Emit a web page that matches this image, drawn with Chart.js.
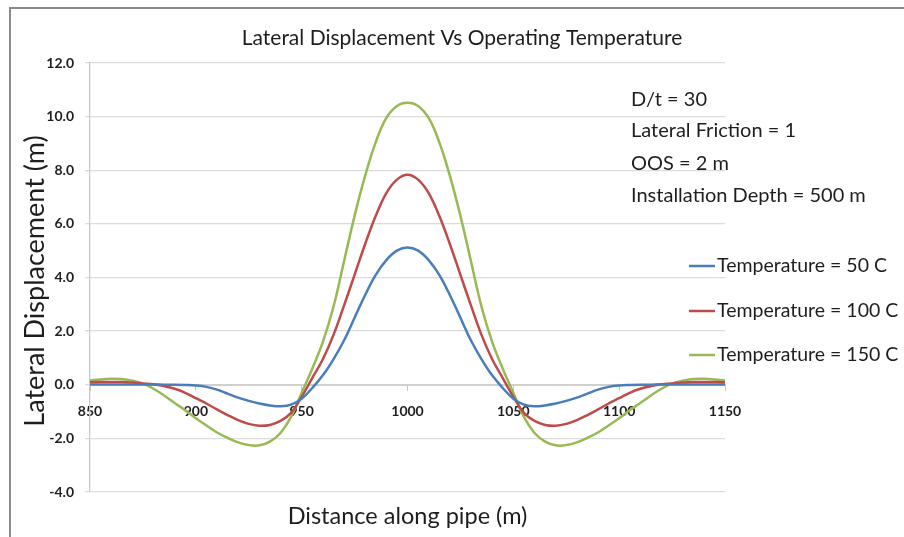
<!DOCTYPE html>
<html>
<head>
<meta charset="utf-8">
<script src="https://cdn.jsdelivr.net/npm/chart.js@4.4.1/dist/chart.umd.min.js"></script>
<style>
  body { margin: 0; background: #fff; }
  #wrap { width: 904px; height: 537px; position: relative; }
</style>
</head>
<body>
<div id="wrap"><canvas id="chart" width="904" height="537"></canvas></div>
<script>
// distance along the pipe, every 5 m
const distance = [
  850, 855, 860, 865, 870, 875, 880, 885, 890, 895,
  900, 905, 910, 915, 920, 925, 930, 935, 940, 945,
  950, 955, 960, 965, 970, 975, 980, 985, 990, 995,
  1000, 1005, 1010, 1015, 1020, 1025, 1030, 1035, 1040, 1045,
  1050, 1055, 1060, 1065, 1070, 1075, 1080, 1085, 1090, 1095,
  1100, 1105, 1110, 1115, 1120, 1125, 1130, 1135, 1140, 1145, 1150
];

// lateral displacement (m) for each operating temperature
const temp50 = [
  0.01, 0.01, 0.01, 0.01, 0.01, 0.01, 0.01, 0.00, 0.00, -0.01,
  -0.03, -0.08, -0.18, -0.33, -0.48, -0.60, -0.70, -0.77, -0.80, -0.74,
  -0.52, -0.12, 0.35, 0.95, 1.65, 2.50, 3.35, 4.10, 4.65, 5.00,
  5.12, 5.00, 4.65, 4.10, 3.35, 2.50, 1.65, 0.95, 0.35, -0.12,
  -0.52, -0.74, -0.80, -0.77, -0.70, -0.60, -0.48, -0.33, -0.18, -0.08,
  -0.03, -0.01, 0.00, 0.00, 0.01, 0.01, 0.01, 0.01, 0.01, 0.01, 0.01
];
const temp100 = [
  0.09, 0.10, 0.10, 0.10, 0.08, 0.05, 0.02, -0.05, -0.15, -0.30,
  -0.50, -0.70, -0.92, -1.13, -1.32, -1.46, -1.53, -1.50, -1.35, -1.05,
  -0.45, 0.25, 0.95, 1.85, 2.95, 4.10, 5.25, 6.30, 7.15, 7.65,
  7.83, 7.65, 7.15, 6.30, 5.25, 4.10, 2.95, 1.85, 0.95, 0.25,
  -0.45, -1.05, -1.35, -1.50, -1.53, -1.46, -1.32, -1.13, -0.92, -0.70,
  -0.50, -0.30, -0.15, -0.05, 0.02, 0.05, 0.08, 0.10, 0.10, 0.10, 0.09
];
const temp150 = [
  0.16, 0.20, 0.22, 0.21, 0.15, 0.04, -0.15, -0.40, -0.68, -0.95,
  -1.25, -1.52, -1.78, -1.98, -2.15, -2.25, -2.26, -2.12, -1.80, -1.20,
  -0.30, 0.60, 1.60, 2.90, 4.60, 6.30, 7.80, 9.05, 9.95, 10.40,
  10.52, 10.40, 9.95, 9.05, 7.80, 6.30, 4.60, 2.90, 1.60, 0.60,
  -0.30, -1.20, -1.80, -2.12, -2.26, -2.25, -2.15, -1.98, -1.78, -1.52,
  -1.25, -0.95, -0.68, -0.40, -0.15, 0.04, 0.15, 0.21, 0.22, 0.20, 0.16
];

const seriesNames = ['Temperature = 50 C', 'Temperature = 100 C', 'Temperature = 150 C'];
const seriesColors = ['#4a7ebb', '#be4b48', '#98b954'];

const xTicks = [850, 900, 950, 1000, 1050, 1100, 1150];
const yTicks = [-4, -2, 0, 2, 4, 6, 8, 10, 12];

const notes = ['D/t = 30', 'Lateral Friction = 1', 'OOS = 2 m', 'Installation Depth = 500 m'];

const FONT = 'Lato, "Open Sans", sans-serif';
const INK = '#1e1e1e';

function toPoints(ys) {
  return ys.map((y, i) => ({ x: distance[i], y: y }));
}

// frame, titles, notes and legend drawn straight onto the canvas
const decorations = {
  id: 'decorations',
  beforeDraw(chart) {
    const ctx = chart.ctx;
    ctx.save();
    ctx.fillStyle = '#fff';
    ctx.fillRect(0, 0, chart.width, chart.height);
    ctx.strokeStyle = '#8a8a8a';
    ctx.lineWidth = 2;
    ctx.beginPath();
    ctx.moveTo(10, chart.height);
    ctx.lineTo(10, 8);
    ctx.lineTo(chart.width, 8);
    ctx.stroke();
    ctx.restore();
  },
  afterDraw(chart) {
    const ctx = chart.ctx;
    const area = chart.chartArea;
    ctx.save();
    ctx.fillStyle = INK;
    ctx.textBaseline = 'middle';

    ctx.textAlign = 'center';
    ctx.font = '21px ' + FONT;
    ctx.fillText('Lateral Displacement Vs Operating Temperature', 462, 38);

    ctx.font = '23.5px ' + FONT;
    ctx.fillText('Distance along pipe (m)', (area.left + area.right) / 2, 516);

    ctx.save();
    ctx.translate(35, 281);
    ctx.rotate(-Math.PI / 2);
    ctx.font = '27px ' + FONT;
    ctx.fillText('Lateral Displacement (m)', 0, 0);
    ctx.restore();

    ctx.textAlign = 'left';
    ctx.font = '20px ' + FONT;
    const noteY = [100, 131, 164, 196];
    notes.forEach((t, i) => ctx.fillText(t, 631, noteY[i]));

    ctx.font = '19.5px ' + FONT;
    const legY = [266, 311, 355];
    seriesNames.forEach((name, i) => {
      ctx.strokeStyle = seriesColors[i];
      ctx.lineWidth = 2.5;
      ctx.beginPath();
      ctx.moveTo(689, legY[i]);
      ctx.lineTo(715, legY[i]);
      ctx.stroke();
      ctx.fillText(name, 717, legY[i]);
    });
    ctx.restore();
  }
};

const ctx = document.getElementById('chart').getContext('2d');
const chart = new Chart(ctx, {
  type: 'line',
  data: {
    datasets: [temp50, temp100, temp150].map((ys, i) => ({
      label: seriesNames[i],
      data: toPoints(ys),
      borderColor: seriesColors[i],
      borderWidth: 2.5,
      pointRadius: 0,
      tension: 0.4,
      fill: false
    }))
  },
  options: {
    responsive: false,
    animation: false,
    layout: { padding: { left: 10, top: 63, right: 179, bottom: 45 } },
    plugins: {
      legend: { display: false },
      title: { display: false },
      tooltip: { enabled: false }
    },
    scales: {
      x: {
        type: 'linear',
        position: { y: 0 },
        min: 850,
        max: 1150,
        afterBuildTicks: (scale) => { scale.ticks = xTicks.map(v => ({ value: v })); },
        ticks: {
          padding: 13,
          color: INK,
          font: { family: FONT, size: 14, weight: 'bold' },
          maxRotation: 0,
          callback: (v) => String(v)
        },
        grid: {
          drawOnChartArea: false,
          drawTicks: true,
          tickLength: 5,
          color: '#c8c8c8'
        },
        border: { color: '#d0d0d0', width: 2 }
      },
      y: {
        min: -4,
        max: 12,
        afterBuildTicks: (scale) => { scale.ticks = yTicks.map(v => ({ value: v })); },
        afterFit: (scale) => { scale.width = 80; },
        ticks: {
          padding: 11,
          color: INK,
          font: { family: FONT, size: 14, weight: 'bold' },
          callback: (v) => v.toFixed(1)
        },
        grid: {
          color: '#dcdcdc',
          lineWidth: 1.3,
          tickLength: 5
        },
        border: { color: '#c8c8c8', width: 1.3 }
      }
    }
  },
  plugins: [decorations]
});
</script>
</body>
</html>
